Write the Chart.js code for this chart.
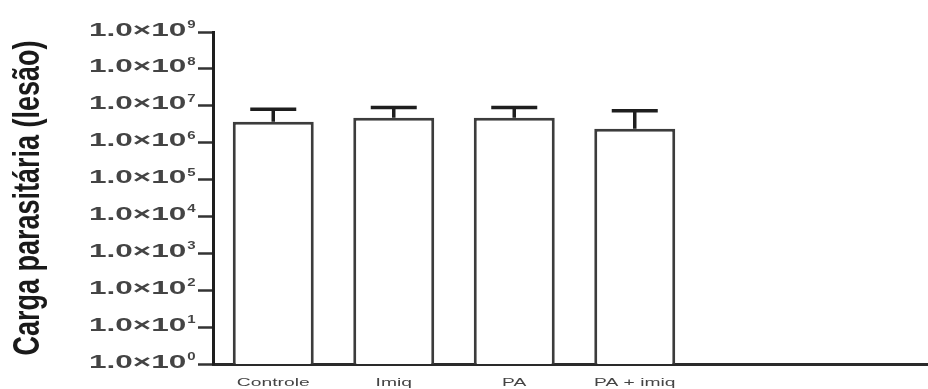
<!DOCTYPE html>
<html>
<head>
<meta charset="utf-8">
<script src="https://cdn.jsdelivr.net/npm/chart.js@4/dist/chart.umd.min.js"></script>
<style>
  html, body { margin: 0; padding: 0; background: #fff; overflow: hidden; }
  canvas { display: block; }
</style>
</head>
<body>
<canvas id="c" width="940" height="389"></canvas>
<script>
// Parasite load per treatment group (mean and mean + SD), log scale
const categories = ['Controle', 'Imiq', 'PA', 'PA + imiq'];
const means = [3.7e6, 4.7e6, 4.7e6, 2.4e6];
const upperErrors = [8.1e6, 9.0e6, 9.0e6, 7.3e6];
const tickExponents = [0, 1, 2, 3, 4, 5, 6, 7, 8, 9];
const tickMantissa = '1.0';
const yTitle = 'Carga parasitária (lesão)';

// Two empty slots keep the axis running on past the last group
const slots = [...categories, '', ''];
const slotValues = [...means, null, null];

const supers = { '0': '⁰', '1': '¹', '2': '²', '3': '³', '4': '⁴', '5': '⁵', '6': '⁶', '7': '⁷', '8': '⁸', '9': '⁹' };

const textPlugin = {
  id: 'stretchedText',
  afterDraw(chart) {
    const ctx = chart.ctx;
    const y = chart.scales.y;
    const x = chart.scales.x;

    // y tick labels: "1.0×10" followed by a raised exponent
    y.ticks.forEach(t => {
      const py = y.getPixelForValue(t.value);
      const exp = String(Math.round(Math.log10(t.value)));
      ctx.save();
      ctx.fillStyle = '#444';
      ctx.font = 'bold 18px "Liberation Sans", Arial, sans-serif';
      const base = tickMantissa + '×10';
      const w = ctx.measureText(base).width * 1.75;
      ctx.translate(89, py + 3.5);
      ctx.scale(1.75, 1);
      ctx.textBaseline = 'alphabetic';
      ctx.fillText(base, 0, 0);
      ctx.restore();

      ctx.save();
      ctx.fillStyle = '#444';
      ctx.font = 'bold 10px "Liberation Sans", Arial, sans-serif';
      ctx.translate(89 + w + 1, py - 4);
      ctx.scale(1.5, 1);
      ctx.textBaseline = 'alphabetic';
      ctx.fillText(exp, 0, 0);
      ctx.restore();
    });

    // category labels under each bar
    categories.forEach((name, i) => {
      const px = x.getPixelForValue(i);
      ctx.save();
      ctx.fillStyle = '#444';
      ctx.font = '11px "Liberation Sans", Arial, sans-serif';
      ctx.translate(px, 383);
      ctx.scale(1.75, 1);
      ctx.textAlign = 'center';
      ctx.textBaseline = 'middle';
      ctx.fillText(name, 0, 0);
      ctx.restore();
    });

    // vertical axis title
    ctx.save();
    ctx.fillStyle = '#1a1a1a';
    ctx.font = 'bold 27px "Liberation Sans", Arial, sans-serif';
    ctx.translate(29, (chart.chartArea.top + chart.chartArea.bottom) / 2);
    ctx.rotate(-Math.PI / 2);
    ctx.scale(1, 1.4);
    ctx.textAlign = 'center';
    ctx.textBaseline = 'middle';
    ctx.fillText(yTitle, 0, 0);
    ctx.restore();
  }
};

// upper error bars with a flat cap
const errorBarPlugin = {
  id: 'errorBars',
  afterDatasetsDraw(chart) {
    const ctx = chart.ctx;
    const y = chart.scales.y;
    const meta = chart.getDatasetMeta(0);
    ctx.save();
    ctx.strokeStyle = '#1e1e1e';
    ctx.lineWidth = 3.5;
    upperErrors.forEach((v, i) => {
      const bar = meta.data[i];
      if (!bar) return;
      const top = y.getPixelForValue(v);
      const barTop = y.getPixelForValue(means[i]);
      ctx.beginPath();
      ctx.moveTo(bar.x, barTop);
      ctx.lineTo(bar.x, top);
      ctx.moveTo(bar.x - 23, top);
      ctx.lineTo(bar.x + 23, top);
      ctx.stroke();
    });
    ctx.restore();
  }
};

new Chart(document.getElementById('c'), {
  type: 'bar',
  data: {
    labels: slots,
    datasets: [{
      data: slotValues,
      backgroundColor: '#ffffff',
      borderColor: '#3c3c3c',
      borderWidth: 3,
      borderSkipped: 'bottom',
      barPercentage: 0.672,
      categoryPercentage: 1
    }]
  },
  options: {
    responsive: false,
    devicePixelRatio: 1,
    animation: false,
    layout: { padding: { top: 32, right: 4, left: 0, bottom: 0 } },
    plugins: { legend: { display: false }, tooltip: { enabled: false } },
    scales: {
      x: {
        type: 'category',
        grid: { display: false, drawTicks: false },
        border: { display: true, color: '#2a2a2a', width: 3 },
        ticks: { display: false },
        afterFit(scale) { scale.height = 25; }
      },
      y: {
        type: 'logarithmic',
        min: 1,
        max: 1e9,
        ticks: { display: false },
        grid: { drawOnChartArea: false, drawTicks: true, tickLength: 15, tickWidth: 2.5, tickColor: '#333' },
        border: { display: true, color: '#1e1e1e', width: 3 },
        afterBuildTicks(scale) {
          scale.ticks = tickExponents.map(e => ({ value: Math.pow(10, e) }));
        },
        afterFit(scale) { scale.width = 213; }
      }
    }
  },
  plugins: [errorBarPlugin, textPlugin]
});
</script>
</body>
</html>
